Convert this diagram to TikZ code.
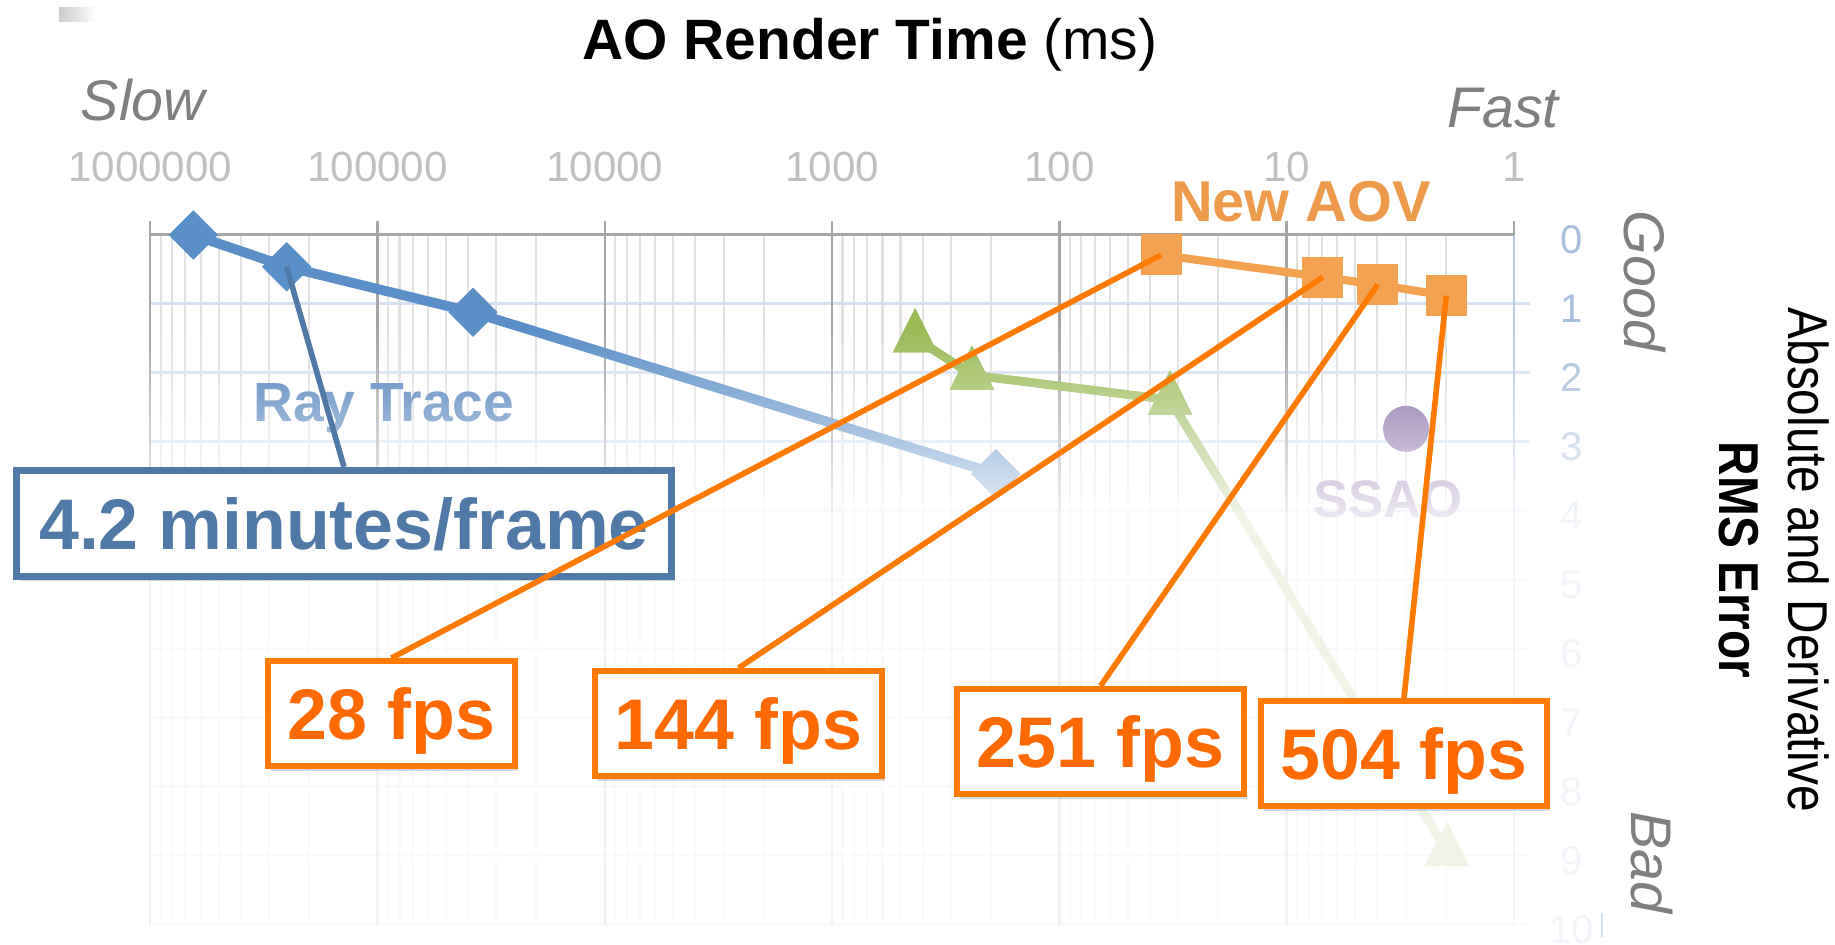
\documentclass[tikz,border=0pt]{standalone}
\usepackage{fontspec}
\setmainfont{Liberation Sans}
\usepackage{xcolor}
\usepackage{tikz}
\usetikzlibrary{shapes,arrows,positioning,calc,fadings,shadows}

\definecolor{rtblue}{HTML}{5A8FC8}
\definecolor{rtlabel}{HTML}{4A7EBB}
\definecolor{aovorange}{HTML}{F3A251}
\definecolor{aovlabel}{HTML}{EE9A4D}
\definecolor{altgreen}{HTML}{9BBB59}
\definecolor{ssaopurple}{HTML}{8064A2}
\definecolor{callorange}{HTML}{FF7A00}
\definecolor{calltext}{HTML}{FF6A00}
\definecolor{callblue}{HTML}{4F7AA7}
\definecolor{gridmajor}{HTML}{A6A6A6}
\definecolor{gridminor}{HTML}{E1E1E1}
\definecolor{gridblue}{HTML}{D6E1EF}
\definecolor{axisblue}{HTML}{B8CCE4}
\definecolor{ticklabel}{HTML}{BFBFBF}
\definecolor{errlabel}{HTML}{A7BEDC}
\definecolor{hintgrey}{HTML}{7F7F7F}

\tikzstyle{rtmark} = [diamond, fill=rtblue, inner sep=0pt, minimum width=0.5cm, minimum height=0.5cm]
\tikzstyle{aovmark} = [rectangle, fill=aovorange, inner sep=0pt, minimum size=0.41cm]
\tikzstyle{altmark} = [regular polygon, regular polygon sides=3, fill=altgreen, inner sep=0pt, minimum size=0.52cm, yscale=1.15]
\tikzstyle{hint} = [font=\fontsize{16.3}{19}\selectfont\itshape, text=hintgrey]
\tikzstyle{ticklab} = [font=\fontsize{12}{14}\selectfont, text=ticklabel, anchor=base]
\tikzstyle{errlab} = [font=\fontsize{11.4}{13}\selectfont, text=errlabel, yshift=-0.05cm]
\tikzstyle{callout} = [rectangle, draw=callorange, line width=1.7pt, fill=white, text=calltext,
  font=\fontsize{20.4}{24}\selectfont\bfseries, text depth=0pt, minimum height=1.05cm,
  drop shadow={shadow xshift=0.3mm, shadow yshift=-0.5mm, opacity=0.3}]
\tikzstyle{leader} = [draw=callorange, line width=1.6pt]

% white veil that swallows the lower half of the chart
\tikzfading[name=fade down, top color=transparent!100, bottom color=transparent!0]

\begin{document}
\begin{tikzpicture}
    \useasboundingbox (0,0) rectangle (18.35,9.45);
    \shade[left color=black!20, right color=white] (0.59,9.37) rectangle (0.97,9.23);

    % chart area: x = log10(ms), y = error
    \begin{scope}[shift={(15.14,7.10)}, x=-2.273cm, y=-0.69cm]
        \foreach \d in {0,...,5}
            \foreach \m in {2,...,9}
                \draw[gridminor, line width=0.6pt] ({\d+log10(\m)},0) -- ({\d+log10(\m)},10);
        \foreach \e in {1,...,10}
            \draw[gridblue, line width=0.85pt] (6,\e) -- (-0.07,\e);
        \foreach \d in {1,...,6}
            \draw[gridmajor, line width=0.7pt] (\d,-0.2) -- (\d,10);
        \draw[gridmajor, line width=0.7pt] (0,-0.2) -- (0,0);
        \draw[axisblue, line width=0.7pt] (0,0) -- (0,10);
        \draw[gridmajor, line width=0.85pt] (6,0) -- (0,0);

        \foreach \d/\v in {6/1000000,5/100000,4/10000,3/1000,2/100,1/10,0/1}
            \node[ticklab] (tick\d) at (\d,-0.77) {\v};
        \foreach \e in {0,...,10}
            \node[errlab] (err\e) at (-0.255,\e) {\e};

        % ray trace
        \node[rtmark] (rt1) at (5.81,0) {};
        \node[rtmark] (rt2) at (5.40,0.46) {};
        \node[rtmark] (rt3) at (4.58,1.12) {};
        \node[rtmark] (rt4) at (2.28,3.46) {};
        \draw[rtblue, line width=2.8pt] (rt1.center) -- (rt2.center) -- (rt3.center) -- (rt4.center);

        % green series
        \node[altmark] (g1) at (2.635,1.49) {};
        \node[altmark] (g2) at (2.385,2.03) {};
        \node[altmark] (g3) at (1.513,2.39) {};
        \node[altmark] (g4) at (0.295,8.93) {};
        \draw[altgreen, line width=2.5pt] (g1.center) -- (g2.center) -- (g3.center) -- (g4.center);

        % ssao
        \node[circle, fill=ssaopurple, inner sep=0pt, minimum size=0.46cm] (ssaodot) at (0.475,2.81) {};

        % new aov
        \node[aovmark] (o1) at (1.553,0.29) {};
        \node[aovmark] (o2) at (0.841,0.61) {};
        \node[aovmark] (o3) at (0.600,0.72) {};
        \node[aovmark] (o4) at (0.298,0.88) {};
        \draw[aovorange, line width=2.3pt] (o1.center) -- (o2.center) -- (o3.center) -- (o4.center);
    \end{scope}

    \node[font=\fontsize{15.7}{19}\selectfont\bfseries, text=rtlabel, anchor=base] (raytrace) at (3.84,5.23) {Ray Trace};
    \node[font=\fontsize{15}{18}\selectfont\bfseries, text=ssaopurple, anchor=base] (ssao) at (13.88,4.27) {SSAO};

    \fill[white, fill opacity=0.85, path fading=fade down] (0,6.15) rectangle (16.05,4.30);
    \fill[white, fill opacity=0.85] (0,4.30) rectangle (16.05,0);
    \draw[gridblue, line width=0.6pt] (16.02,0.32) -- (16.02,0.08);

    \node[font=\fontsize{16.4}{19}\selectfont\bfseries, text=aovlabel, anchor=base] (newaov) at (13.01,7.23) {New AOV};

    % titles
    \node[font=\fontsize{16.2}{19}\selectfont, anchor=base] (title) at (8.70,8.85) {\textbf{AO Render Time} (ms)};
    \node[hint, anchor=base] (slow) at (1.43,8.24) {Slow};
    \node[hint, anchor=base] (fast) at (15.03,8.17) {Fast};
    \node[hint, rotate=-90] (good) at (16.45,6.64) {Good};
    \node[hint, rotate=-90] (bad) at (16.52,0.83) {Bad};
    \node[font=\fontsize{16}{19.4}\selectfont, rotate=-90, xscale=0.85, align=center] (errtitle) at (17.74,3.85)
        {Absolute and Derivative\\\textbf{RMS Error}};

    % callouts
    \node[callout, draw=callblue, text=callblue, line width=2pt, minimum width=6.55cm, minimum height=1.06cm] (mins) at (3.44,4.215) {4.2 minutes/frame};
    \node[callout, minimum width=2.47cm] (fps28) at (3.915,2.315) {28 fps};
    \node[callout, minimum width=2.87cm] (fps144) at (7.385,2.215) {144 fps};
    \node[callout, minimum width=2.87cm] (fps251) at (11.005,2.035) {251 fps};
    \node[callout, minimum width=2.86cm] (fps504) at (14.04,1.915) {504 fps};

    \draw[callblue, line width=1.6pt] (mins.north) -- (rt2.center);
    \draw[leader] (fps28.north) -- (o1.center);
    \draw[leader] (fps144.north) -- (o2.center);
    \draw[leader] (fps251.north) -- (o3.center);
    \draw[leader] (fps504.north) -- (o4.center);
\end{tikzpicture}
\end{document}
